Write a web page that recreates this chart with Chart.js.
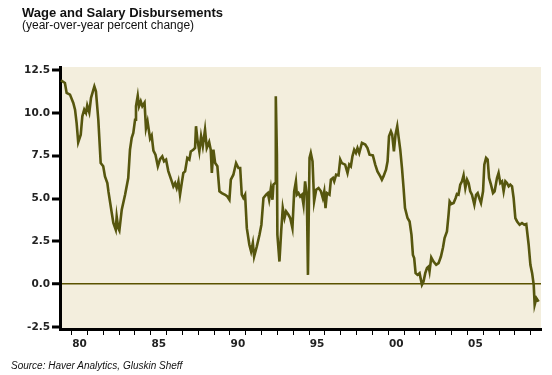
<!DOCTYPE html>
<html>
<head>
<meta charset="utf-8">
<script src="https://cdn.jsdelivr.net/npm/chart.js@4"></script>
<style>
  body { margin: 0; background: #fff; }
  #wrap { position: relative; width: 552px; height: 375px; }
  .txt { position: absolute; white-space: nowrap; color: #111; font-family: "Liberation Sans", Arial, sans-serif; }
  #title { left: 22px; top: 6px; font-size: 13px; line-height: 13px; font-weight: bold; }
  #subtitle { left: 22px; top: 19px; font-size: 12px; line-height: 12px; }
  #source { left: 11px; top: 361px; font-size: 10px; line-height: 10px; font-style: italic; }
  canvas { position: absolute; left: 0; top: 0; }
</style>
</head>
<body>
<div id="wrap">
  <canvas id="chart" width="552" height="375"></canvas>
  <div class="txt" id="title">Wage and Salary Disbursements</div>
  <div class="txt" id="subtitle">(year-over-year percent change)</div>
  <div class="txt" id="source">Source: Haver Analytics, Gluskin Sheff</div>
</div>
<script>
// decimal year of each reading
const years = [
  1979.33, 1979.58, 1979.69, 1979.90, 1980.11, 1980.22, 1980.32, 1980.42, 1980.58, 1980.68,
  1980.80, 1980.91, 1980.99, 1981.12, 1981.23, 1981.44, 1981.54, 1981.69, 1981.84, 1982.00,
  1982.11, 1982.26, 1982.33, 1982.54, 1982.64, 1982.79, 1982.85, 1982.95, 1983.02, 1983.17,
  1983.38, 1983.58, 1983.69, 1983.80, 1983.90, 1984.01, 1984.07, 1984.18, 1984.26, 1984.37,
  1984.47, 1984.61, 1984.70, 1984.80, 1984.96, 1985.06, 1985.17, 1985.30, 1985.45, 1985.59,
  1985.73, 1985.84, 1985.97, 1986.11, 1986.33, 1986.43, 1986.54, 1986.64, 1986.75, 1986.85,
  1986.96, 1987.06, 1987.17, 1987.31, 1987.44, 1987.53, 1987.69, 1987.80, 1987.86, 1987.95,
  1988.07, 1988.18, 1988.29, 1988.43, 1988.54, 1988.69, 1988.79, 1988.86, 1988.96, 1989.07,
  1989.21, 1989.34, 1989.49, 1989.70, 1989.84, 1989.97, 1990.06, 1990.22, 1990.39, 1990.54,
  1990.65, 1990.75, 1990.85, 1990.96, 1991.07, 1991.23, 1991.34, 1991.45, 1991.53, 1991.70,
  1991.87, 1991.99, 1992.12, 1992.29, 1992.40, 1992.48, 1992.59, 1992.69, 1992.75, 1992.86,
  1992.90, 1992.97, 1993.00, 1993.13, 1993.24, 1993.34, 1993.45, 1993.55, 1993.70, 1993.81,
  1993.95, 1994.06, 1994.17, 1994.23, 1994.33, 1994.44, 1994.55, 1994.65, 1994.75, 1994.86,
  1994.93, 1995.03, 1995.11, 1995.22, 1995.32, 1995.45, 1995.60, 1995.75, 1995.87, 1995.96,
  1996.04, 1996.13, 1996.29, 1996.38, 1996.51, 1996.59, 1996.71, 1996.86, 1996.97, 1997.07,
  1997.28, 1997.43, 1997.54, 1997.64, 1997.74, 1997.85, 1997.96, 1998.06, 1998.17, 1998.34,
  1998.55, 1998.69, 1998.82, 1999.03, 1999.18, 1999.32, 1999.50, 1999.60, 1999.70, 1999.86,
  1999.96, 2000.05, 2000.17, 2000.25, 2000.36, 2000.46, 2000.57, 2000.65, 2000.76, 2000.87,
  2000.97, 2001.06, 2001.22, 2001.35, 2001.47, 2001.56, 2001.64, 2001.73, 2001.85, 2001.98,
  2002.13, 2002.23, 2002.34, 2002.45, 2002.55, 2002.61, 2002.72, 2002.86, 2003.03, 2003.18,
  2003.33, 2003.46, 2003.56, 2003.71, 2003.81, 2003.88, 2003.98, 2004.13, 2004.26, 2004.34,
  2004.44, 2004.55, 2004.66, 2004.76, 2004.87, 2004.98, 2005.08, 2005.18, 2005.29, 2005.44,
  2005.55, 2005.65, 2005.75, 2005.86, 2005.99, 2006.07, 2006.18, 2006.28, 2006.37, 2006.49,
  2006.62, 2006.72, 2006.87, 2006.97, 2007.08, 2007.19, 2007.29, 2007.40, 2007.50, 2007.61,
  2007.71, 2007.82, 2007.92, 2008.03, 2008.14, 2008.30, 2008.45, 2008.60, 2008.72, 2008.87,
  2008.98, 2009.09, 2009.19, 2009.25, 2009.36, 2009.50
];

// year-over-year % change
const wages = [
  11.90, 11.75, 11.17, 11.07, 10.58, 10.19, 9.40, 8.28, 8.73, 9.80,
  10.20, 10.00, 10.43, 10.03, 10.88, 11.55, 11.26, 9.60, 7.07, 6.88,
  6.29, 5.90, 5.40, 4.15, 3.57, 3.18, 3.95, 3.27, 3.13, 4.35,
  5.22, 6.20, 7.85, 8.54, 8.83, 9.60, 10.39, 11.00, 10.39, 10.68,
  10.39, 10.60, 9.10, 9.50, 8.50, 8.68, 7.80, 7.56, 6.88, 7.30,
  7.46, 7.17, 7.27, 6.60, 6.00, 5.71, 5.90, 5.61, 6.00, 5.22,
  5.90, 6.49, 6.58, 7.37, 7.27, 7.75, 7.85, 7.95, 9.22, 8.44,
  7.75, 8.63, 8.05, 9.02, 7.95, 8.30, 7.85, 6.49, 7.85, 7.07,
  6.88, 5.42, 5.32, 5.22, 5.12, 4.93, 6.10, 6.39, 7.07, 6.78,
  6.78, 5.22, 5.03, 5.22, 3.27, 2.30, 1.91, 2.40, 1.61, 2.20,
  2.88, 3.47, 5.03, 5.22, 5.32, 4.93, 5.61, 4.93, 5.81, 5.90,
  10.97, 7.56, 2.88, 1.32, 3.08, 4.44, 3.86, 4.25, 4.05, 3.86,
  3.27, 5.42, 6.00, 5.22, 5.32, 5.12, 5.22, 4.64, 6.00, 5.22,
  0.54, 7.37, 7.66, 7.17, 4.83, 5.51, 5.61, 5.42, 5.03, 5.42,
  4.44, 5.32, 5.22, 6.10, 6.20, 6.00, 6.39, 6.35, 7.27, 7.07,
  6.98, 6.49, 6.98, 6.88, 7.46, 7.85, 7.66, 7.95, 7.66, 8.25,
  8.15, 7.95, 7.56, 7.52, 6.98, 6.58, 6.29, 6.10, 6.29, 6.68,
  7.17, 8.63, 8.92, 8.73, 7.75, 8.73, 9.22, 8.63, 7.85, 6.78,
  5.61, 4.44, 3.86, 3.66, 2.88, 1.71, 1.52, 0.64, 0.54, 0.64,
  -0.04, 0.15, 0.64, 0.94, 1.03, 0.74, 1.56, 1.32, 1.13, 1.23,
  1.61, 2.14, 2.69, 3.08, 4.05, 4.83, 4.68, 4.74, 5.03, 5.26,
  5.22, 5.81, 6.00, 6.35, 5.61, 6.10, 5.90, 5.42, 5.22, 4.64,
  5.22, 5.32, 5.03, 4.74, 5.42, 6.98, 7.37, 7.27, 6.20, 5.81,
  5.32, 5.42, 6.20, 6.49, 5.90, 6.00, 5.42, 6.00, 5.90, 5.71,
  5.81, 5.71, 5.03, 3.86, 3.66, 3.47, 3.57, 3.47, 3.51, 2.30,
  1.13, 0.64, -0.04, -1.21, -0.82, -1.02
];

const xTicks = [];
for (let y = 1980; y <= 2009; y++) xTicks.push(y);
const xLabels = { 1980: '80', 1985: '85', 1990: '90', 1995: '95', 2000: '00', 2005: '05' };
const yTicks = [-2.5, 0, 2.5, 5, 7.5, 10, 12.5];

const tickFont = { family: 'DejaVu Sans', size: 10.5, weight: 'bold' };

// cream fill behind the plot
const plotBg = {
  id: 'plotBg',
  beforeDraw(chart) {
    const { ctx, chartArea: a } = chart;
    ctx.save();
    ctx.fillStyle = '#f3eedd';
    ctx.fillRect(a.left, a.top, a.right - a.left, a.bottom - a.top);
    ctx.restore();
  }
};

new Chart(document.getElementById('chart'), {
  type: 'line',
  data: {
    datasets: [{
      data: years.map((x, i) => ({ x, y: wages[i] })),
      borderColor: '#56560e',
      borderWidth: 2.6,
      pointRadius: 0,
      tension: 0
    }]
  },
  options: {
    responsive: false,
    devicePixelRatio: 1,
    animation: false,
    layout: { padding: { top: 67, right: 11, bottom: 0, left: 0 } },
    plugins: { legend: { display: false }, tooltip: { enabled: false } },
    scales: {
      x: {
        type: 'linear',
        min: 1979.27,
        max: 2009.65,
        afterBuildTicks: s => { s.ticks = xTicks.map(v => ({ value: v })); },
        afterFit: s => { s.height = 46; },
        ticks: {
          autoSkip: false,
          maxRotation: 0,
          labelOffset: 8,
          padding: 3,
          color: '#222',
          font: tickFont,
          callback: v => xLabels[v] || ''
        },
        grid: { drawOnChartArea: false, tickLength: 6, tickWidth: 1, tickColor: '#000' },
        border: { display: true, color: '#000', width: 3 }
      },
      y: {
        min: -2.62,
        max: 12.68,
        afterBuildTicks: s => { s.ticks = yTicks.map(v => ({ value: v })); },
        afterFit: s => { s.width = 60; },
        ticks: {
          padding: 2,
          color: '#222',
          font: tickFont,
          callback: v => v.toFixed(1)
        },
        grid: {
          drawOnChartArea: true,
          color: c => (c.tick && c.tick.value === 0 ? '#5a5200' : 'rgba(0,0,0,0)'),
          lineWidth: c => (c.tick && c.tick.value === 0 ? 1.5 : 0),
          tickLength: 8,
          tickWidth: 3,
          tickColor: '#000'
        },
        border: { display: true, color: '#000', width: 3 }
      }
    }
  },
  plugins: [plotBg]
});
</script>
</body>
</html>
